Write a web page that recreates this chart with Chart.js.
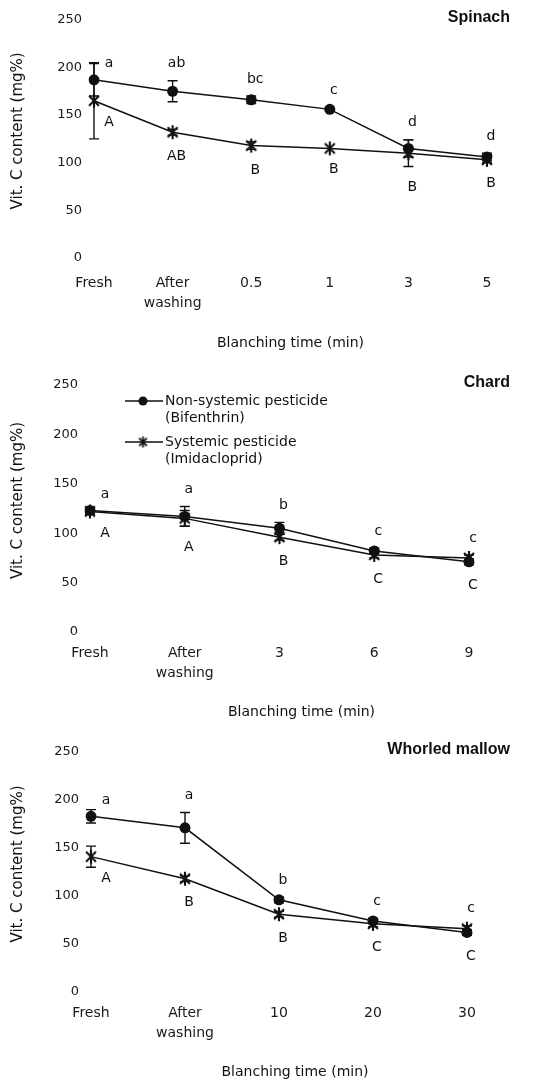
<!DOCTYPE html>
<html>
<head>
<meta charset="utf-8">
<script src="https://cdn.jsdelivr.net/npm/chart.js@4.4.1/dist/chart.umd.min.js"></script>
<style>
  html, body { margin: 0; padding: 0; background: #fff; }
  body { width: 546px; height: 1081px; position: relative; overflow: hidden; }
  .panel { position: absolute; left: 0; width: 546px; }
  .panel canvas { display: block; }
</style>
</head>
<body>
<div class="panel" style="top:0px;height:358px"><canvas id="spinach" width="546" height="358"></canvas></div>
<div class="panel" style="top:362px;height:362px"><canvas id="chard" width="546" height="362"></canvas></div>
<div class="panel" style="top:728px;height:353px"><canvas id="mallow" width="546" height="353"></canvas></div>
<script>
// ---- Vitamin C content (mg%) during blanching ----
const seriesNames = ['Non-systemic pesticide (Bifenthrin)', 'Systemic pesticide (Imidacloprid)'];
const legendLines = [['Non-systemic pesticide', '(Bifenthrin)'], ['Systemic pesticide', '(Imidacloprid)']];
const yTicks = [0, 50, 100, 150, 200, 250];

// Spinach
const spinachCategories = ['Fresh', ['After', 'washing'], '0.5', '1', '3', '5'];
const spinachNonSystemic = [187, 175, 166, 156, 115, 106];
const spinachNonSystemicSD = [17, 11, 4, 2, 9, 4];
const spinachSystemic = [165, 132, 118, 115, 110, 103];
const spinachSystemicSD = [40, 3, 4, 0, 14, 3];
const spinachLower = ['a', 'ab', 'bc', 'c', 'd', 'd'];
const spinachUpper = ['A', 'AB', 'B', 'B', 'B', 'B'];

// Chard
const chardCategories = ['Fresh', ['After', 'washing'], '3', '6', '9'];
const chardNonSystemic = [123, 117, 105, 82, 71];
const chardNonSystemicSD = [3, 10, 6, 3, 3];
const chardSystemic = [122, 115, 96, 78, 75];
const chardSystemicSD = [3, 8, 3, 3, 3];
const chardLower = ['a', 'a', 'b', 'c', 'c'];
const chardUpper = ['A', 'A', 'B', 'C', 'C'];

// Whorled mallow
const mallowCategories = ['Fresh', ['After', 'washing'], '10', '20', '30'];
const mallowNonSystemic = [183, 171, 96, 74, 62];
const mallowNonSystemicSD = [7, 16, 3, 3, 3];
const mallowSystemic = [141, 118, 81, 71, 66];
const mallowSystemicSD = [11, 3, 3, 3, 3];
const mallowLower = ['a', 'a', 'b', 'c', 'c'];
const mallowUpper = ['A', 'B', 'B', 'C', 'C'];

const INK = '#111';
const FONT = '"DejaVu Sans", sans-serif';

// six-armed asterisk marker
function makeAsterisk(size, lw) {
  const c = document.createElement('canvas');
  c.width = c.height = size;
  const g = c.getContext('2d');
  const m = size / 2, r = size / 2 - 1;
  g.strokeStyle = INK; g.lineWidth = lw; g.lineCap = 'butt';
  g.beginPath();
  [90, 45, 135].forEach(deg => {
    const a = deg * Math.PI / 180;
    g.moveTo(m + r * Math.cos(a), m + r * Math.sin(a));
    g.lineTo(m - r * Math.cos(a), m - r * Math.sin(a));
  });
  g.stroke();
  return c;
}
const starMarker = makeAsterisk(16, 2.1);
const starLegend = makeAsterisk(13, 1.8);

// SD whiskers
const errorBars = {
  id: 'errorBars',
  afterDatasetsDraw(chart) {
    const { ctx } = chart; const ys = chart.scales.y;
    chart.data.datasets.forEach((ds, i) => {
      const meta = chart.getDatasetMeta(i);
      ctx.save();
      ctx.strokeStyle = INK; ctx.lineWidth = 1.4;
      meta.data.forEach((pt, j) => {
        const e = ds.sd[j]; if (!e) return;
        const v = ds.data[j];
        const t = ys.getPixelForValue(v + e), b = ys.getPixelForValue(v - e);
        ctx.beginPath();
        ctx.moveTo(pt.x, t); ctx.lineTo(pt.x, b);
        ctx.moveTo(pt.x - 5, t); ctx.lineTo(pt.x + 5, t);
        ctx.moveTo(pt.x - 5, b); ctx.lineTo(pt.x + 5, b);
        ctx.stroke();
      });
      ctx.restore();
    });
  }
};

// significance letters: lowercase above, uppercase below
const letters = {
  id: 'letters',
  afterDatasetsDraw(chart) {
    const { ctx } = chart; const ys = chart.scales.y;
    const [d0, d1] = chart.data.datasets;
    const m0 = chart.getDatasetMeta(0);
    ctx.save();
    ctx.fillStyle = INK; ctx.font = '14px ' + FONT;
    ctx.textAlign = 'center'; ctx.textBaseline = 'middle';
    m0.data.forEach((pt, j) => {
      const hi = Math.max(d0.data[j] + d0.sd[j], d1.data[j] + d1.sd[j]);
      const lo = Math.min(d0.data[j] - d0.sd[j], d1.data[j] - d1.sd[j]);
      if (j === 0) {
        ctx.fillText(d0.letters[j], pt.x + 15, ys.getPixelForValue(d0.data[j]) - 16);
        ctx.fillText(d1.letters[j], pt.x + 15, ys.getPixelForValue(d1.data[j]) + 22);
      } else {
        ctx.fillText(d0.letters[j], pt.x + 4, ys.getPixelForValue(hi) - 17);
        ctx.fillText(d1.letters[j], pt.x + 4, ys.getPixelForValue(lo) + 21);
      }
    });
    ctx.restore();
  }
};

// panel name, axis captions and legend
const captions = {
  id: 'captions',
  afterDraw(chart, args, o) {
    const { ctx, chartArea: a } = chart;
    ctx.save();
    ctx.fillStyle = INK;
    ctx.textBaseline = 'middle';
    ctx.font = 'bold 16px "Liberation Sans", Arial, sans-serif';
    ctx.textAlign = 'right';
    ctx.fillText(o.name, 510, a.top - 2);

    ctx.font = '14px ' + FONT;
    ctx.textAlign = 'center';
    ctx.fillText('Blanching time (min)', (a.left + a.right) / 2 + o.xDx, a.bottom + o.xDy);

    ctx.save();
    ctx.translate(18, (a.top + a.bottom) / 2 - 8);
    ctx.rotate(-Math.PI / 2);
    ctx.font = '15px ' + FONT;
    ctx.fillText('Vit. C content (mg%)', 0, 0);
    ctx.restore();

    if (o.legend) {
      const x0 = a.left + 35;
      [16, 57].forEach((dy, i) => {
        const y = a.top + dy;
        ctx.strokeStyle = INK; ctx.lineWidth = 1.5;
        ctx.beginPath(); ctx.moveTo(x0, y); ctx.lineTo(x0 + 38, y); ctx.stroke();
        if (i === 0) {
          ctx.fillStyle = INK; ctx.beginPath(); ctx.arc(x0 + 18, y, 4.5, 0, Math.PI * 2); ctx.fill();
        } else {
          Chart.helpers.drawPoint(ctx, { pointStyle: starLegend, radius: 6, rotation: 0 }, x0 + 18, y);
        }
        ctx.fillStyle = INK;
        ctx.textAlign = 'left';
        ctx.font = '14px ' + FONT;
        legendLines[i].forEach((line, k) => ctx.fillText(line, x0 + 40, y + k * 17));
      });
    }
    ctx.restore();
  }
};

function panel(id, cats, ns, nsSD, sy, sySD, low, up, geo) {
  const canvas = document.getElementById(id);
  return new Chart(canvas, {
    type: 'line',
    data: {
      labels: cats,
      datasets: [
        { label: seriesNames[0], data: ns, sd: nsSD, letters: low,
          borderColor: INK, borderWidth: 1.5, tension: 0,
          pointStyle: 'circle', pointRadius: 5.5, pointBackgroundColor: INK, pointBorderColor: INK, pointBorderWidth: 0 },
        { label: seriesNames[1], data: sy, sd: sySD, letters: up,
          borderColor: INK, borderWidth: 1.5, tension: 0,
          pointStyle: starMarker, pointRadius: 8 }
      ]
    },
    options: {
      responsive: false,
      animation: false,
      events: [],
      layout: { padding: { top: geo.top, left: 0, right: 546 - geo.right, bottom: 0 } },
      plugins: {
        legend: { display: false },
        tooltip: { enabled: false },
        captions: { name: geo.name, xDx: geo.xDx, xDy: geo.xDy, legend: !!geo.legend }
      },
      scales: {
        x: {
          grid: { display: false, drawTicks: false }, border: { display: false },
          ticks: { color: '#1a1a1a', font: { family: FONT, size: 14, lineHeight: 1.45 },
                   padding: geo.xPad, maxRotation: 0, autoSkip: false },
          afterFit(s) { s.height = geo.h - geo.bottom; }
        },
        y: {
          min: 0, max: 250,
          grid: { display: false, drawTicks: false }, border: { display: false },
          afterBuildTicks(s) { s.ticks = yTicks.map(v => ({ value: v })); },
          ticks: { color: '#1a1a1a', font: { family: FONT, size: 13 }, padding: 12 },
          afterFit(s) { s.width = geo.left; }
        }
      }
    },
    plugins: [errorBars, letters, captions]
  });
}

panel('spinach', spinachCategories, spinachNonSystemic, spinachNonSystemicSD,
      spinachSystemic, spinachSystemicSD, spinachLower, spinachUpper,
      { name: 'Spinach', h: 358, top: 16, bottom: 258, left: 94, right: 487, xPad: 15, xDx: 0, xDy: 85 });
panel('chard', chardCategories, chardNonSystemic, chardNonSystemicSD,
      chardSystemic, chardSystemicSD, chardLower, chardUpper,
      { name: 'Chard', h: 362, top: 23, bottom: 270, left: 90, right: 469, xPad: 11, xDx: 22, xDy: 80, legend: true });
panel('mallow', mallowCategories, mallowNonSystemic, mallowNonSystemicSD,
      mallowSystemic, mallowSystemicSD, mallowLower, mallowUpper,
      { name: 'Whorled mallow', h: 353, top: 24, bottom: 264, left: 91, right: 467, xPad: 11, xDx: 16, xDy: 80 });
</script>
</body>
</html>
